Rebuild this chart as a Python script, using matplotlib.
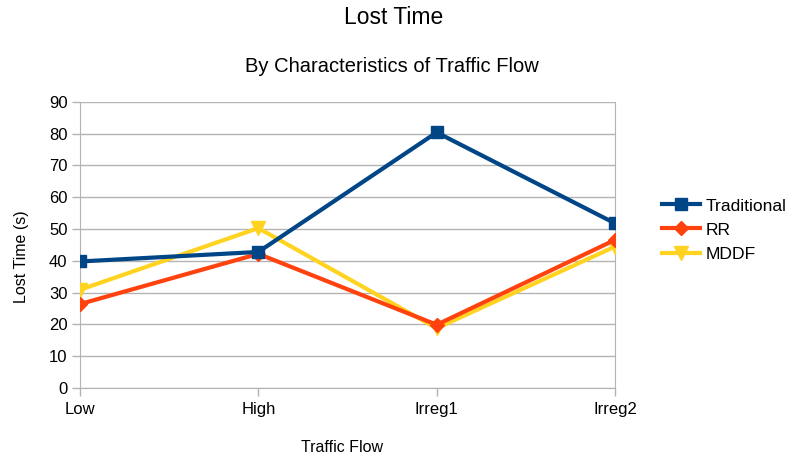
import matplotlib
matplotlib.use("Agg")
import matplotlib.pyplot as plt

plt.rcParams['font.family'] = ['Liberation Sans', 'DejaVu Sans']

categories = ["Low", "High", "Irreg1", "Irreg2"]
traditional = [39.8, 42.8, 80.4, 51.8]
rr = [26.4, 42.2, 19.9, 46.6]
mddf = [30.9, 50.3, 18.8, 44.5]

fig = plt.figure(figsize=(7.88, 4.57), dpi=100)
ax = fig.add_axes([0.1015, 0.151, 0.679, 0.626])

x = list(range(len(categories)))
ax.plot(x, traditional, color="#004586", lw=3, marker="s", ms=9, label="Traditional", zorder=5)
ax.plot(x, rr, color="#ff420e", lw=3, marker="D", ms=7, label="RR", zorder=4)
ax.plot(x, mddf, color="#ffd320", lw=3, marker="v", ms=10, label="MDDF", zorder=3)

ax.set_xlim(0, 3)
ax.set_ylim(0, 90)
ax.set_yticks(range(0, 91, 10))
ax.set_xticks(x)
ax.set_xticklabels(categories)
ax.yaxis.grid(True, color="#b3b3b3", lw=1)
ax.set_axisbelow(True)
for s in ["left", "right", "bottom"]:
    ax.spines[s].set_color("#b3b3b3")
ax.spines["top"].set_visible(False)
ax.tick_params(axis="both", colors="#b3b3b3", labelcolor="#000000", labelsize=12, length=6, width=1)
ax.tick_params(axis="y", pad=3)
ax.tick_params(axis="x", pad=4)

ax.set_xlabel("Traffic Flow", fontsize=11.5, labelpad=17, x=0.49)
ax.set_ylabel("Lost Time (s)", fontsize=11.5, labelpad=14, y=0.46)

fig.text(0.5, 1 - 17 / 457, "Lost Time", ha="center", va="center", fontsize=16.5)
fig.text(0.497, 1 - 66 / 457, "By Characteristics of Traffic Flow", ha="center", va="center", fontsize=14.5)

leg = fig.legend(*ax.get_legend_handles_labels(), loc="center left",
                 bbox_to_anchor=(658 / 788, 1 - 230 / 457), frameon=False, fontsize=12.6,
                 handlelength=2.2, labelspacing=0.5, handletextpad=0.3, borderpad=0.2,
                 borderaxespad=0)

fig.savefig("out.png", dpi=100)
